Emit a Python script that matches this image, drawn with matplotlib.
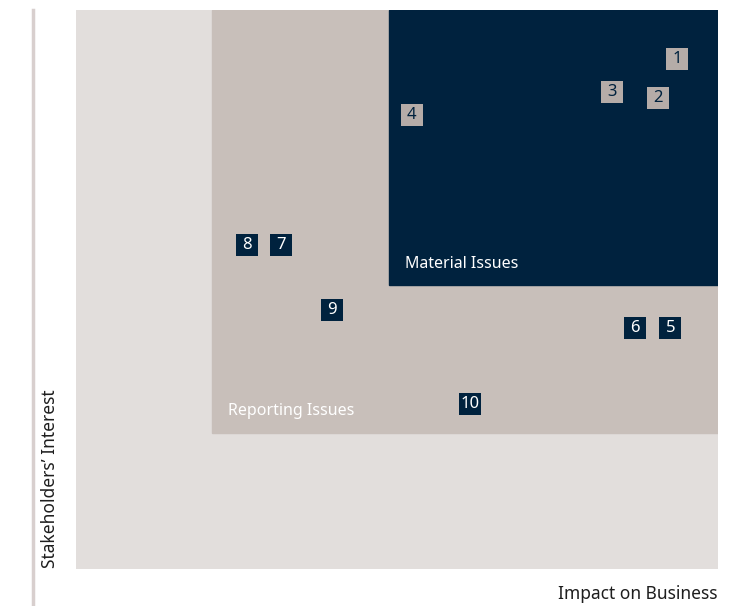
import matplotlib
matplotlib.use("Agg")
import matplotlib.pyplot as plt
from matplotlib.patches import Rectangle

plt.rcParams['font.family'] = ['Noto Sans', 'DejaVu Sans']

# Issue numbers and their positions (impact on business, stakeholders' interest), 0-100 scale
issues = ["1", "2", "3", "4", "5", "6", "7", "8", "9", "10"]
impact = [93.6, 90.7, 83.5, 52.3, 92.6, 87.1, 31.9, 26.6, 39.8, 61.4]
interest = [91.3, 84.3, 85.3, 81.3, 43.1, 43.1, 58.0, 58.0, 46.4, 29.6]

# Zone thresholds
reporting_x, reporting_y = 21.2, 24.3
material_x, material_y = 48.75, 50.8

BG_LIGHT = "#e2dedc"
BG_MID = "#c8bfba"
NAVY = "#00223e"
MARK_LIGHT = "#b5aca8"

fig = plt.figure(figsize=(7.55, 6.06), dpi=100)
ax = fig.add_axes([76 / 755, 1 - 569 / 606, 642 / 755, 559 / 606])
ax.set_xlim(0, 100)
ax.set_ylim(0, 100)
ax.axis("off")

ax.add_patch(Rectangle((0, 0), 100, 100, color=BG_LIGHT, zorder=0))
ax.add_patch(Rectangle((reporting_x, reporting_y), 100 - reporting_x, 100 - reporting_y,
                       color=BG_MID, zorder=1))
ax.add_patch(Rectangle((material_x, material_y), 100 - material_x, 100 - material_y,
                       color=NAVY, zorder=2))

ax.text(reporting_x + 2.4, reporting_y + 4.0, "Reporting Issues", color="white",
        fontsize=11.5, va="center", ha="left", zorder=3)
ax.text(material_x + 2.5, material_y + 3.8, "Material Issues", color="white",
        fontsize=11.5, va="center", ha="left", zorder=3)

# Issue markers: light boxes inside the material zone, navy elsewhere
for lab, x, y in zip(issues, impact, interest):
    material = x >= material_x and y >= material_y
    face = MARK_LIGHT if material else NAVY
    txt = NAVY if material else "white"
    ax.scatter([x], [y], marker="s", s=272, color=face, linewidths=0, zorder=4)
    ax.text(x, y, lab, color=txt, fontsize=12, ha="center", va="center", zorder=5)

# Left axis line
fig.add_artist(plt.Line2D([33 / 755, 33 / 755], [1 - 10 / 606, 1 - 605 / 606],
                          color="#d8cfce", linewidth=2.5))

fig.text(50 / 755, 1 - 568 / 606, "Stakeholders\u2019 Interest", rotation=90,
         ha="center", va="bottom", fontsize=12.5, color="#1e1e1e")
fig.text(718 / 755, 1 - 594 / 606, "Impact on Business", ha="right", va="center",
         fontsize=12.5, color="#1e1e1e")

fig.savefig("out.png", dpi=100, facecolor="white")
